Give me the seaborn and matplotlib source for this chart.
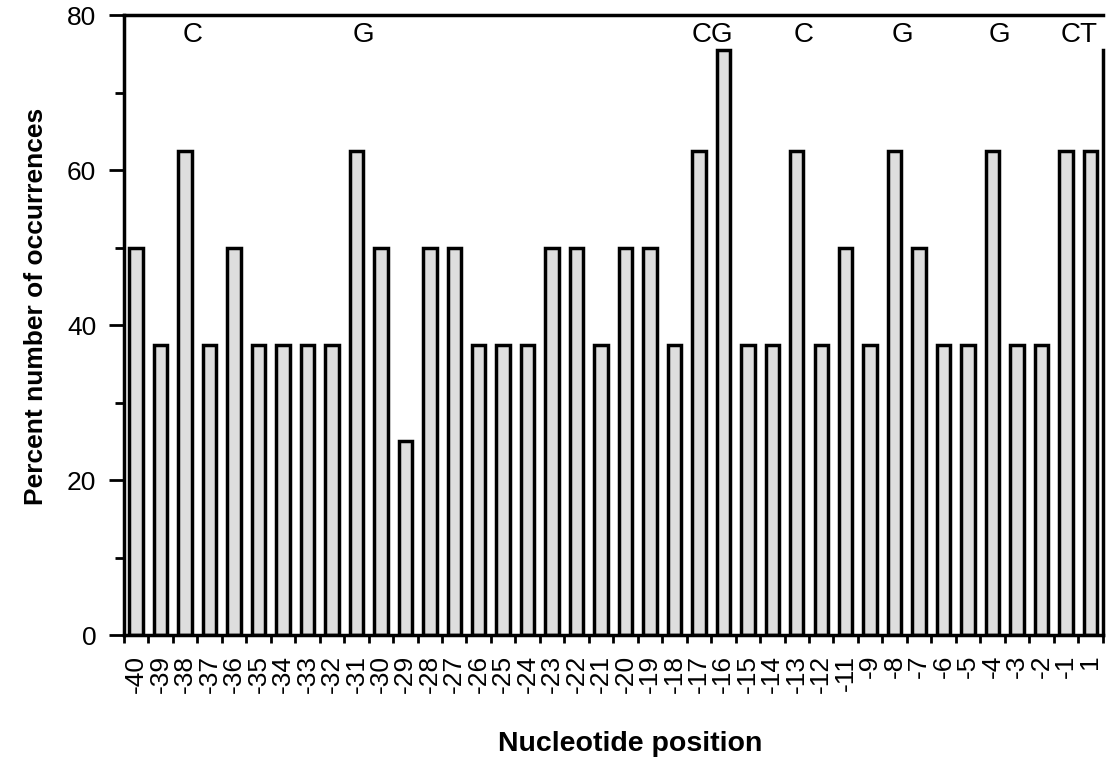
import pandas as pd
import matplotlib.pyplot as plt
import seaborn as sns
from matplotlib.ticker import MultipleLocator, FixedLocator

# Positions (pas de -10 dans la figure d'origine)
positions = [str(p) for p in range(-40, -10)] + [str(p) for p in range(-9, 0)] + ["1"]
percent = [50, 37.5, 62.5, 37.5, 50, 37.5, 37.5, 37.5, 37.5, 62.5,
           50, 25, 50, 50, 37.5, 37.5, 37.5, 50, 50, 37.5,
           50, 50, 37.5, 62.5, 75.5, 37.5, 37.5, 62.5, 37.5, 50,
           37.5, 62.5, 50, 37.5, 37.5, 62.5, 37.5, 37.5, 62.5, 62.5]

# Lettres au-dessus des barres
ann_text = ["C", "G", "CG", "C", "G", "G", "CT"]
ann_sites = [["-38"], ["-31"], ["-17", "-16"], ["-13"], ["-8"], ["-4"], ["-1", "1"]]

df = pd.DataFrame({"Position": positions, "Percent": percent})

sns.set_style("ticks")
plt.rcParams["font.family"] = ["Liberation Sans", "DejaVu Sans"]
for k in ["text.color", "axes.labelcolor", "xtick.color", "ytick.color", "axes.edgecolor"]:
    plt.rcParams[k] = "black"

fig = plt.figure(figsize=(11.07, 7.68), dpi=100)
ax = fig.add_axes([0.112, 0.173, 0.884, 0.807])

sns.barplot(data=df, x="Position", y="Percent", order=positions, color="#dedede",
            saturation=1, edgecolor="black", linewidth=2.5, width=0.55, ax=ax)

ax.set_xlim(-0.5, len(positions) - 0.5)
ax.set_ylim(0, 80)

# Axe Y
ax.yaxis.set_major_locator(MultipleLocator(20))
ax.yaxis.set_minor_locator(MultipleLocator(10))
ax.tick_params(axis="y", which="major", length=11, width=2, labelsize=19, pad=9)
ax.tick_params(axis="y", which="minor", length=6.5, width=2)

# Axe X : étiquettes sous les barres, graduations entre les barres
ax.set_xticks(range(len(positions)))
ax.set_xticklabels(positions, rotation=90, fontsize=19, va="top")
ax.tick_params(axis="x", which="major", length=0, pad=14)
ax.xaxis.set_minor_locator(FixedLocator([i - 0.5 for i in range(len(positions) + 1)]))
ax.tick_params(axis="x", which="minor", length=6, width=2)

for side in ["left", "bottom", "top", "right"]:
    ax.spines[side].set_linewidth(2.5)
ax.spines["right"].set_bounds(0, 75.5)

idx = {p: i for i, p in enumerate(positions)}
for txt, sites in zip(ann_text, ann_sites):
    xs = [idx[s] for s in sites]
    x = sum(xs) / len(xs) + (0.3 if len(xs) == 1 else 0.05)
    ax.text(x, 77.5, txt, ha="center", va="center", fontsize=20)

ax.set_xlabel("Nucleotide position", fontsize=20.5, fontweight="bold")
ax.set_ylabel("Percent number of occurrences", fontsize=19, fontweight="bold")
ax.xaxis.set_label_coords(0.517, -0.155)
ax.yaxis.set_label_coords(-0.078, 0.53)

plt.savefig("out.png", dpi=100)
